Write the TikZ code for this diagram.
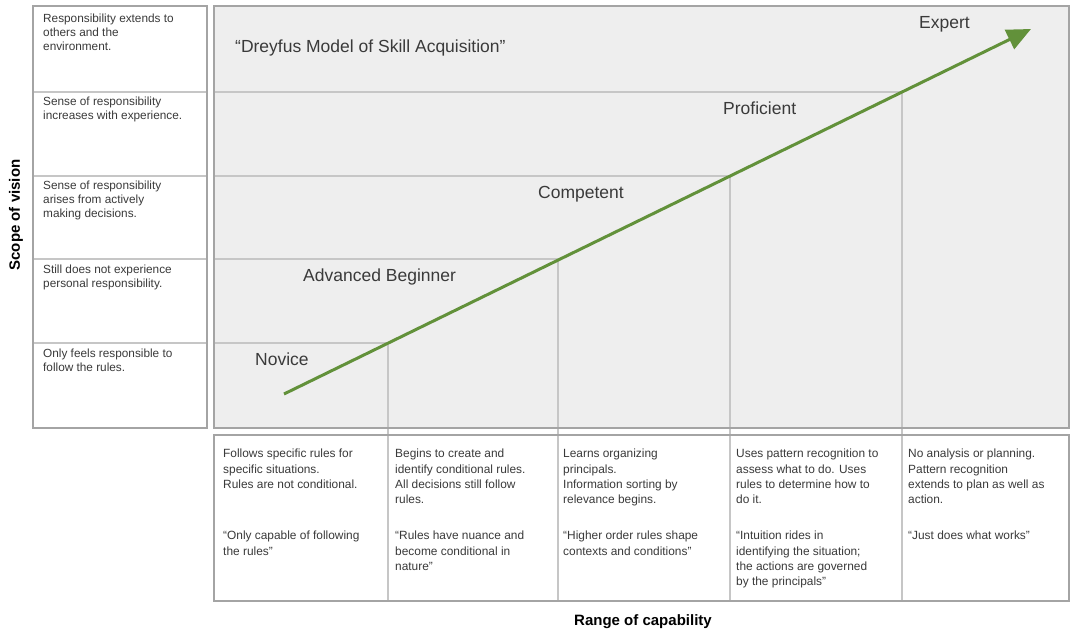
\documentclass[tikz,border=0pt]{standalone}
\usepackage{fontspec}
\setmainfont{Liberation Sans}
\usetikzlibrary{positioning,arrows.meta}

\definecolor{panelgray}{HTML}{EEEEEE}
\definecolor{framegray}{HTML}{A4A4A4}
\definecolor{gridgray}{HTML}{C6C6C6}
\definecolor{inkgray}{HTML}{3A3A3A}
\definecolor{growgreen}{HTML}{62913A}

\begin{document}
\begin{tikzpicture}[x=1pt,y=-1pt,
	frame/.style={draw=framegray,line width=2.6pt},
	grid/.style={draw=gridgray,line width=1.1pt},
	stage/.style={anchor=base west,inner sep=0pt,text=inkgray,font=\fontsize{17.5}{20}\selectfont},
	sidenote/.style={anchor=north west,inner sep=0pt,align=left,text=inkgray,font=\fontsize{11.8}{14}\selectfont},
	cellnote/.style={anchor=north west,inner sep=0pt,align=left,text=inkgray,font=\fontsize{11.9}{15.3}\selectfont},
	axis/.style={inner sep=0pt,text=black,font=\fontsize{15}{18}\selectfont\bfseries}]

\useasboundingbox(0,0)rectangle(1071,637);

% panels
\fill[panelgray](214,6)rectangle(1069,428);
\fill[white](33,6)rectangle(207,428);
\fill[white](214,435)rectangle(1069,601);

% staircase of stages
\draw[grid](214,92)--(902,92);
\draw[grid](214,176)--(730,176);
\draw[grid](214,259)--(558,259);
\draw[grid](214,343)--(388,343);
\draw[grid](902,92)--(902,601);
\draw[grid](730,176)--(730,601);
\draw[grid](558,259)--(558,601);
\draw[grid](388,343)--(388,601);

% rows of the side column
\draw[grid](33,92)--(207,92);
\draw[grid](33,176)--(207,176);
\draw[grid](33,259)--(207,259);
\draw[grid](33,343)--(207,343);

\draw[frame](33,6)rectangle(207,428);
\draw[frame](214,6)rectangle(1069,428);
\draw[frame](214,435)rectangle(1069,601);

% growth line
\coordinate(start) at (284,394);
\coordinate(tip) at (1031,29);
\draw[growgreen,line width=3pt,-{Triangle[length=24pt,width=21pt]}](start)--(tip);

\node[stage](title) at (235,52){“Dreyfus Model of Skill Acquisition”};
\node[stage](novice) at (255,365){Novice};
\node[stage](advbeg) at (303,281){Advanced Beginner};
\node[stage](competent) at (538,198){Competent};
\node[stage](proficient) at (723,114){Proficient};
\node[stage](expert) at (919,28){Expert};

% scope of vision
\node[sidenote](vis5) at (43,14){Responsibility extends to\\others and the\\environment.};
\node[sidenote](vis4) at (43,97){Sense of responsibility\\increases with experience.};
\node[sidenote](vis3) at (43,181){Sense of responsibility\\arises from actively\\making decisions.};
\node[sidenote](vis2) at (43,265){Still does not experience\\personal responsibility.};
\node[sidenote](vis1) at (43,349){Only feels responsible to\\follow the rules.};

% range of capability
\node[cellnote](cap1) at (223,449){Follows specific rules for\\specific situations.\\Rules are not conditional.};
\node[cellnote](cap2) at (395,449){Begins to create and\\identify conditional rules.\\All decisions still follow\\rules.};
\node[cellnote](cap3) at (563,449){Learns organizing\\principals.\\Information sorting by\\relevance begins.};
\node[cellnote](cap4) at (736,449){Uses pattern recognition to\\assess what to do. Uses\\rules to determine how to\\do it.};
\node[cellnote](cap5) at (908,449){No analysis or planning.\\Pattern recognition\\extends to plan as well as\\action.};

\node[cellnote](quote1) at (223,531){“Only capable of following\\the rules”};
\node[cellnote](quote2) at (395,531){“Rules have nuance and\\become conditional in\\nature”};
\node[cellnote](quote3) at (563,531){“Higher order rules shape\\contexts and conditions”};
\node[cellnote](quote4) at (736,531){“Intuition rides in\\identifying the situation;\\the actions are governed\\by the principals”};
\node[cellnote](quote5) at (908,531){“Just does what works”};

\node[axis,rotate=90](scope) at (16,215){Scope of vision};
\node[axis](range) at (643,622){Range of capability};

\end{tikzpicture}
\end{document}
